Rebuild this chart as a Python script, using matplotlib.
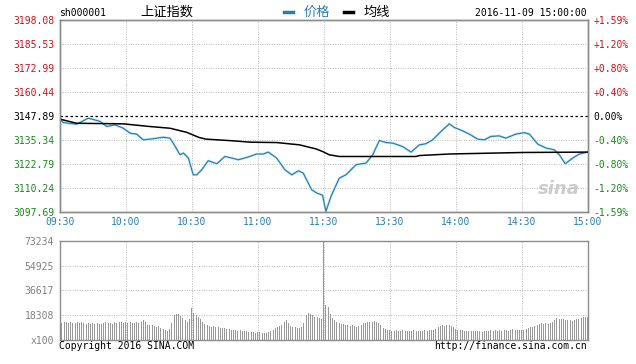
import matplotlib
matplotlib.use("Agg")
import matplotlib.pyplot as plt
from matplotlib.lines import Line2D

# price line as (minute index, price)
price_min = [0, 1.6, 7.7, 13, 18.3, 21.4, 25.1, 28.9, 32, 35, 38, 42.5, 47.1, 50.1,
             51.6, 54.7, 56.2, 58.5, 60.7, 62.3, 64.5, 67.5, 71.4, 75.1, 78.2, 81.2,
             85, 89.5, 92.5, 94.8, 98.6, 102.4, 105.5, 108.5, 110.7, 114.5, 116.8,
             119.5, 121, 123.3, 127.1, 130.1, 134.7, 139.2, 142.3, 145.3, 148.3,
             151.4, 155.9, 159.7, 163.5, 166.5, 169.5, 173.3, 177.1, 179.4, 183.2,
             186.2, 190, 193, 196, 199.8, 202.8, 207.3, 211.2, 213.5, 217.3, 221.1,
             224.8, 227.1, 229.8, 233.2, 236.2, 240]
price_val = [3146.4, 3144.4, 3143.5, 3146.7, 3145.0, 3142.3, 3143.2, 3141.4, 3138.8,
             3138.3, 3135.3, 3135.9, 3136.7, 3136.2, 3133.6, 3127.5, 3128.4, 3125.8,
             3117.0, 3117.0, 3119.6, 3124.4, 3122.8, 3126.6, 3125.8, 3124.9, 3126.1,
             3127.9, 3127.9, 3128.9, 3125.8, 3119.6, 3117.0, 3119.1, 3117.9, 3109.2,
             3107.5, 3106.3, 3097.8, 3105.7, 3115.3, 3117.0, 3122.3, 3123.1, 3127.5,
             3135.0, 3133.9, 3133.6, 3131.8, 3128.9, 3132.7, 3133.3, 3135.3, 3139.7,
             3143.7, 3141.8, 3140.0, 3138.3, 3135.7, 3135.3, 3137.1, 3137.4, 3136.2,
             3138.3, 3139.1, 3138.3, 3133.1, 3131.0, 3130.1, 3127.5, 3122.8, 3125.8,
             3127.9, 3128.9]

# average line
avg_min = [0, 7.7, 28.9, 41, 50.1, 57.6, 63.5, 66.5, 78.9, 86.5, 98.6, 109, 115.3,
           116.5, 119.5, 122.5, 127.1, 140.8, 162, 163.5, 177, 210.5, 240]
avg_val = [3146.2, 3144.0, 3143.7, 3142.3, 3141.4, 3139.3, 3136.5, 3135.7, 3134.8,
           3134.1, 3133.9, 3132.7, 3130.9, 3130.6, 3129.2, 3127.5, 3126.6, 3126.6,
           3126.6, 3127.1, 3127.9, 3128.7, 3128.9]

# volume per minute (chart units, x100)
volume = [20900,
          12600, 13100, 13400, 12800, 13500, 12900, 12300, 13200, 12700, 13000,
          12400, 12100, 12800, 11900, 12200, 11600, 12500, 12000, 11800, 12700,
          13100, 12300, 12900, 12000, 13300, 12600, 13000, 13400, 12500, 13100,
          12800, 13200, 12400, 12900, 13300, 12600, 13100, 14700, 13600, 11400,
          10800, 11200, 10400, 9800, 10100, 9200, 8300, 7600, 6300, 7900,
          12300, 18400, 19200, 18900, 17600, 16000, 14400, 13500, 15800, 23400,
          19700, 18800, 17000, 15200, 13300, 12100, 11000, 10300, 9800, 10100,
          9400, 9700, 8900, 8500, 9100, 8300, 7900, 7400, 7700, 7200,
          6900, 7300, 6600, 6400, 7000, 6200, 5800, 6100, 5400, 6000,
          5600, 5200, 4900, 5500, 5900, 6400, 7600, 8800, 9400, 10200,
          11000, 13500, 14700, 12400, 10600, 9300, 9800, 9100, 8800, 9500,
          12800, 18400, 19700, 19200, 18100, 16800, 17200, 16000, 15500, 73234,
          25800, 24000, 19500, 16200, 14600, 13500, 12700, 12100, 11600, 11200,
          10800, 10400, 10900, 10000, 9600, 10200, 11300, 12400, 12900, 13200,
          13000, 13600, 13800, 13100, 12400, 11000, 8800, 7900, 7500, 7200,
          7000, 6800, 7300, 6900, 6600, 7100, 6700, 7000, 6500, 6900,
          7200, 6800, 6600, 7000, 6400, 7300, 6900, 7200, 7600, 7400,
          8200, 9800, 10600, 11000, 10500, 11200, 10800, 10200, 9800, 8100,
          7400, 7100, 7300, 6800, 7000, 6600, 6900, 6400, 6700, 6300,
          6600, 6200, 6500, 6900, 6400, 7100, 6800, 7400, 7000, 7300,
          6900, 7600, 7200, 7000, 7500, 7800, 7300, 7700, 7500, 7100,
          7400, 7900, 8800, 9300, 9900, 10400, 10900, 11800, 12300, 11500,
          12800, 11600, 12200, 13000, 14700, 16000, 15700, 15300, 15800, 14900,
          14500, 14900, 14200, 15100, 15600, 15200, 16300, 16800, 17000, 17200]

prev_close = 3147.89
price_ticks = [3198.08, 3185.53, 3172.99, 3160.44, 3147.89, 3135.34, 3122.79, 3110.24, 3097.69]
pct_labels = ['+1.59%', '+1.20%', '+0.80%', '+0.40%', '0.00%', '-0.40%', '-0.80%', '-1.20%', '-1.59%']
vol_ticks = [0, 18308, 36617, 54925, 73234]
vol_labels = ['x100', '18308', '36617', '54925', '73234']
time_pos = [0, 30, 60, 90, 120, 150, 180, 210, 240]
time_labels = ['09:30', '10:00', '10:30', '11:00', '11:30', '13:30', '14:00', '14:30', '15:00']

RED = '#c8141e'
GREEN = '#1a8a1a'
BLUE = '#2b7fb0'
GRID = '#b8b8b8'
FRAME = '#8c8c8c'
MONO = 'DejaVu Sans Mono'
CJK = ['Noto Sans CJK SC', 'DejaVu Sans']

W, H = 636, 364


def px(x, y):
    return x / W, 1 - y / H


fig = plt.figure(figsize=(W / 100, H / 100), dpi=100)
fig.patch.set_facecolor('white')

# ---- price panel ----
ax = fig.add_axes([59.7 / W, 1 - 211.7 / H, 528 / W, 191.7 / H])
ax.set_xlim(0, 240)
ax.set_ylim(price_ticks[-1], price_ticks[0])
for t in time_pos[1:-1]:
    ax.axvline(t, color=GRID, lw=0.7, ls=(0, (1, 1.5)), zorder=1)
for v in price_ticks[1:-1]:
    if v == prev_close:
        ax.axhline(v, color='black', lw=0.9, ls=(0, (2, 2)), zorder=1)
    else:
        ax.axhline(v, color=GRID, lw=0.7, ls=(0, (1, 1.5)), zorder=1)

ax.plot(price_min, price_val, color='#d3eefa', lw=2.0, zorder=2, solid_joinstyle='round')
ax.plot(price_min, price_val, color=BLUE, lw=0.9, zorder=3)
ax.plot(avg_min, avg_val, color='black', lw=1.1, zorder=3)

ax.set_yticks(price_ticks)
ax.set_yticklabels(['%.2f' % v for v in price_ticks], fontfamily=MONO, fontsize=7)
for lab, v in zip(ax.get_yticklabels(), price_ticks):
    lab.set_color(RED if v > prev_close else ('black' if v == prev_close else GREEN))
ax.set_xticks(time_pos)
ax.set_xticklabels(time_labels, fontfamily=MONO, fontsize=7, color=BLUE)
ax.tick_params(length=0, pad=4)

ax_r = ax.twinx()
ax_r.set_ylim(ax.get_ylim())
ax_r.set_yticks(price_ticks)
ax_r.set_yticklabels(pct_labels, fontfamily=MONO, fontsize=7)
for lab, v in zip(ax_r.get_yticklabels(), price_ticks):
    lab.set_color(RED if v > prev_close else ('black' if v == prev_close else GREEN))
ax_r.tick_params(length=0, pad=4)
for a in (ax, ax_r):
    for s in a.spines.values():
        s.set_color(FRAME)
        s.set_linewidth(1)

ax.text(0.985, 0.12, 'sina', transform=ax.transAxes, ha='right', va='center',
        fontsize=13, fontweight='bold', fontstyle='italic', color='#cccccc', zorder=0)

# ---- volume panel ----
ax2 = fig.add_axes([59.7 / W, 1 - 340 / H, 528 / W, 99.3 / H])
ax2.set_xlim(0, 240)
ax2.set_ylim(0, vol_ticks[-1])
for t in time_pos[1:-1]:
    ax2.axvline(t, color=GRID, lw=0.7, ls=(0, (1, 1.5)), zorder=1)
for v in vol_ticks[1:-1]:
    ax2.axhline(v, color=GRID, lw=0.7, ls=(0, (1, 1.5)), zorder=1)
ax2.bar(range(len(volume)), volume, width=0.5, color='#999999', zorder=2)
ax2.set_xticks([])
ax2.set_yticks(vol_ticks)
ax2.set_yticklabels(vol_labels, fontfamily=MONO, fontsize=7, color='#808080')
ax2.tick_params(length=0, pad=4)
for s in ax2.spines.values():
    s.set_color(FRAME)
    s.set_linewidth(1)

# ---- header / footer texts ----
fig.text(*px(59, 13), 'sh000001', fontfamily=MONO, fontsize=7, va='center', ha='left')
fig.text(*px(140, 12), '上证指数', family=CJK, fontsize=9.5, va='center', ha='left')
for x0, col in ((284, BLUE), (344, 'black')):
    (xa, ya), (xb, yb) = px(x0, 12), px(x0 + 9, 12)
    fig.add_artist(Line2D([xa, xb], [ya, yb], color=col, lw=2.5, transform=fig.transFigure))
fig.text(*px(304, 12), '价格', family=CJK, fontsize=9.5, color=BLUE, va='center', ha='left')
fig.text(*px(364, 12), '均线', family=CJK, fontsize=9.5, color='black', va='center', ha='left')
fig.text(*px(587, 13), '2016-11-09 15:00:00', fontfamily=MONO, fontsize=7, va='center', ha='right')
fig.text(*px(59, 346), 'Copyright 2016 SINA.COM', fontfamily=MONO, fontsize=7, va='center', ha='left')
fig.text(*px(587, 346), 'http://finance.sina.com.cn', fontfamily=MONO, fontsize=7, va='center', ha='right')

fig.savefig('out.png', dpi=100, facecolor='white')
